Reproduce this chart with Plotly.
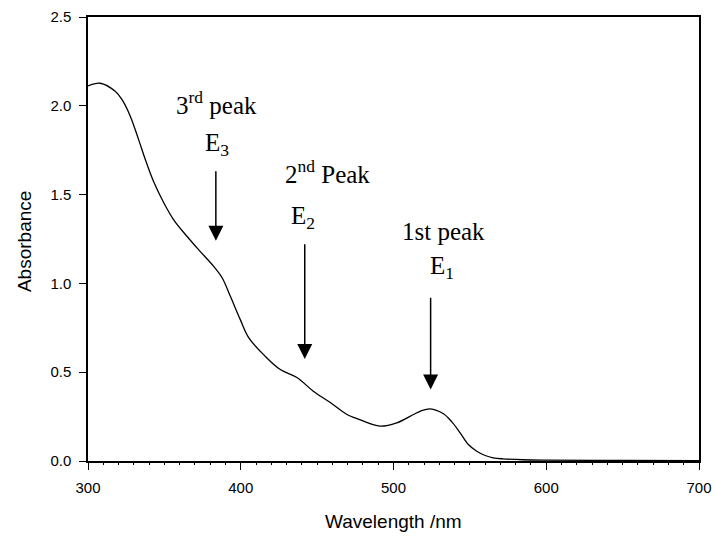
import plotly.graph_objects as go

# UV-Vis absorption spectrum
wavelength_nm = [300, 308, 318, 322.4, 327.8, 333.2, 337.6, 343, 349.6, 356.1,
                 364.9, 372.5, 382.3, 387.8, 393.2, 399.7, 405.2, 416, 425.9, 436.8,
                 447.5, 458.6, 469.5, 476.1, 491.3, 502.2, 513.1, 517.5, 524, 532.7,
                 538.2, 543.6, 549, 554.5, 560, 565.2, 571.7, 585, 600, 650, 700]
absorbance = [2.112, 2.127, 2.080, 2.033, 1.939, 1.808, 1.696, 1.572, 1.454, 1.358,
              1.264, 1.189, 1.096, 1.032, 0.927, 0.796, 0.695, 0.590, 0.515, 0.470,
              0.393, 0.329, 0.262, 0.239, 0.196, 0.215, 0.262, 0.280, 0.294, 0.266,
              0.220, 0.159, 0.093, 0.055, 0.031, 0.018, 0.012, 0.007, 0.005, 0.003, 0.002]

x_ticks = [300, 400, 500, 600, 700]
y_ticks = [0.0, 0.5, 1.0, 1.5, 2.0, 2.5]

# peak markers: wavelength, arrow top, arrow tip
peak_nm = [524.3, 441.9, 383.7]
arrow_top = [0.927, 1.229, 1.640]
arrow_tip = [0.402, 0.574, 1.240]

# peak captions: (text, wavelength, absorbance)
captions = [
    ("1st peak", 532.5, 1.295),
    ("E<sub>1</sub>", 531.7, 1.088),
    ("2<sup>nd</sup> Peak", 456.5, 1.628),
    ("E<sub>2</sub>", 440.5, 1.370),
    ("3<sup>rd</sup> peak", 384.0, 2.015),
    ("E<sub>3</sub>", 384.5, 1.780),
]

fig = go.Figure()
fig.add_trace(go.Scatter(
    x=wavelength_nm, y=absorbance, mode="lines",
    line=dict(color="black", width=1.3, shape="spline", smoothing=1.0),
    hoverinfo="skip", showlegend=False,
))

annotations = []
for nm, top, tip in zip(peak_nm, arrow_top, arrow_tip):
    annotations.append(dict(
        x=nm, y=tip, ax=nm, ay=top, xref="x", yref="y", axref="x", ayref="y",
        text="", showarrow=True, arrowhead=2, arrowsize=2.0, arrowwidth=1.5,
        arrowcolor="black",
    ))
for text, nm, a in captions:
    annotations.append(dict(
        x=nm, y=a, xref="x", yref="y", text=text, showarrow=False,
        xanchor="center", yanchor="middle",
        font=dict(family="Liberation Serif", size=25, color="black"),
    ))
annotations.append(dict(
    x=0.5, y=-0.137, xref="paper", yref="paper", text="Wavelength /nm",
    showarrow=False, xanchor="center", yanchor="middle",
    font=dict(family="Liberation Sans", size=19, color="black"),
))
annotations.append(dict(
    x=-0.105, y=0.495, xref="paper", yref="paper", text="Absorbance",
    showarrow=False, xanchor="center", yanchor="middle", textangle=-90,
    font=dict(family="Liberation Sans", size=19, color="black"),
))

axis_common = dict(
    showline=True, linecolor="black", linewidth=1.5, mirror=True,
    showgrid=False, zeroline=False, ticks="outside", ticklen=7,
    tickwidth=1.2, tickcolor="black", automargin=False, ticklabelstandoff=5,
    tickfont=dict(family="Liberation Sans", size=15, color="black"),
)

fig.update_layout(
    width=715, height=536,
    margin=dict(l=88, r=16, t=17, b=75),
    paper_bgcolor="white", plot_bgcolor="white",
    xaxis=dict(range=[300, 700], tickvals=x_ticks, **axis_common,
               minor=dict(dtick=10, ticks="outside", ticklen=2, tickcolor="black")),
    yaxis=dict(range=[0, 2.5], tickvals=y_ticks, tickformat=".1f", **axis_common),
    annotations=annotations,
)

fig.write_html("out.html")
